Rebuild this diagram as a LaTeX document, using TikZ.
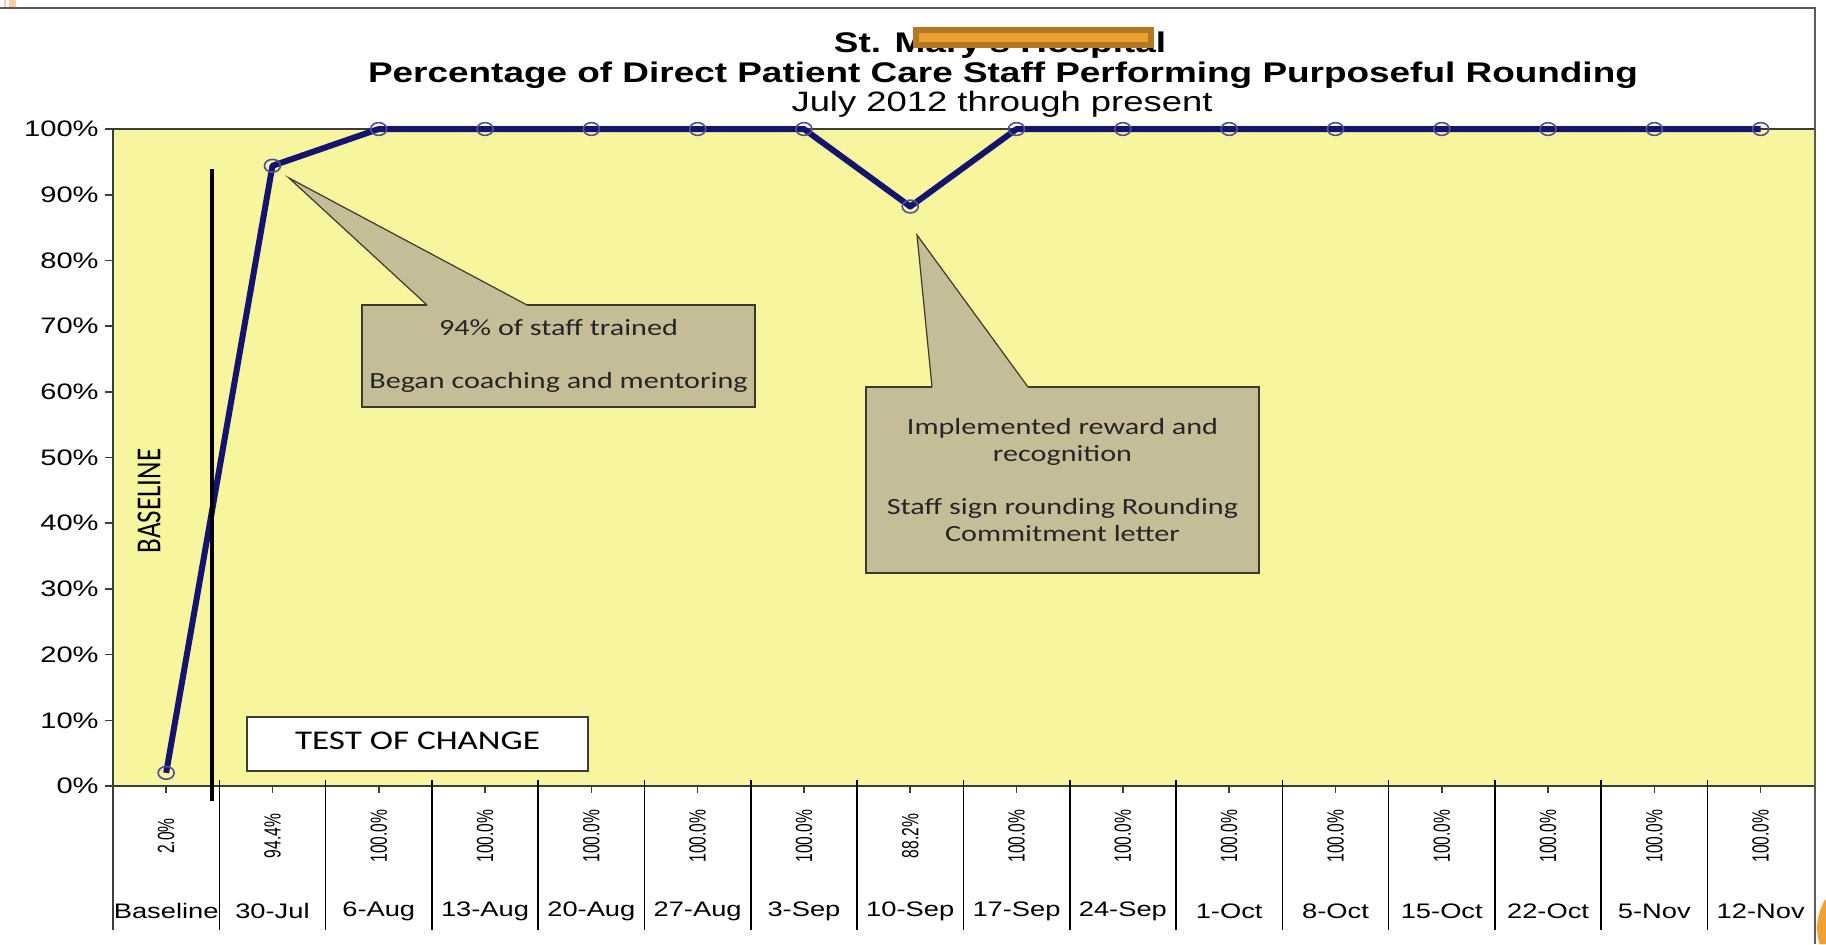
\documentclass[tikz,border=0pt]{standalone}
\usepackage{fontspec}
\usepackage{tikz}
\newfontfamily\chartfont{Liberation Sans}[FakeStretch=1.3]
\newfontfamily\chartfontup{Liberation Sans}
\newfontfamily\notefont{Carlito}[FakeStretch=1.3]
\newfontfamily\notefontup{Carlito}
\newcommand{\tallbox}[1]{\scalebox{1}[1.5]{#1}}
\definecolor{plotyellow}{RGB}{247,245,158}
\definecolor{calltan}{RGB}{196,189,151}
\definecolor{callline}{RGB}{60,58,40}
\definecolor{navyline}{RGB}{20,20,110}
\definecolor{markblue}{RGB}{80,80,150}
\definecolor{axisgray}{RGB}{60,60,60}
\definecolor{framegray}{RGB}{90,90,90}
\definecolor{redactfill}{RGB}{236,160,50}
\definecolor{redactline}{RGB}{180,120,36}
\definecolor{slideorange}{RGB}{240,160,48}
\definecolor{slidepeach}{RGB}{248,205,165}

\begin{document}
\begin{tikzpicture}[x=0.5pt,y=-0.5pt,
	titlefont/.style={font=\chartfont\bfseries\fontsize{14.2}{17}\selectfont,inner sep=0pt},
	subfont/.style={font=\chartfont\fontsize{14}{17}\selectfont,inner sep=0pt},
	ylabel/.style={anchor=east,inner sep=0pt,font=\chartfont\fontsize{11.2}{13}\selectfont},
	datelabel/.style={inner sep=0pt,font=\chartfont\fontsize{10.5}{12}\selectfont},
	vallabel/.style={rotate=90,inner sep=0pt,font=\chartfontup\fontsize{7.8}{9}\selectfont},
	callout/.style={fill=calltan,draw=callline,line width=0.6pt,minimum width=196.5pt,
		inner sep=0pt,align=center,text=black!85,font=\notefont\fontsize{11.6}{13.3}\selectfont},
	series/.style={navyline,line width=3pt,line join=round},
	ptmark/.style={draw=markblue,line width=0.8pt}]
			%\draw [help lines] (0,0) grid (1826,944);
			\useasboundingbox (0,0) rectangle (1826,944);
			\clip (0,0) rectangle (1826,944);
			\fill[white] (0,0) rectangle (1826,944);
			\fill[slidepeach] (4,0) rectangle (6,7);
			\fill[slidepeach] (9,0) rectangle (16,7);
			\fill[slideorange] (1826,899) -- (1823.8,902) -- (1820.2,910) -- (1817.6,920) -- (1817,928) -- (1817.6,936) -- (1819.5,944) -- (1826,944) -- cycle;
			\draw[framegray,line width=1.2pt] (0,8) -- (1815,8) -- (1815,944);
			\node[titlefont] (title1) at (1000,45) {St. Mary's Hospital};
			\node[draw=redactline,fill=redactfill,line width=3pt,inner sep=0pt,minimum width=117.5pt,minimum height=7.5pt] (redact) at (1033.5,37.5) {};
			\node[titlefont] (title2) at (1003,75) {Percentage of Direct Patient Care Staff Performing Purposeful Rounding};
			\node[subfont] (title3) at (1002,104) {July 2012 through present};
			\fill[plotyellow] (113,129) rectangle (1814,786);
			\draw[axisgray,line width=1pt] (113,129) -- (1814,129);
			\draw[axisgray,line width=1pt] (113,129) -- (113,930);
			\draw[axisgray,line width=1pt] (105,786) -- (1814,786);
			\foreach \v in {0,10,...,100} {
				\draw[axisgray,line width=0.8pt] (105,{786-6.57*\v}) -- (113,{786-6.57*\v});
				\node[ylabel] (y\v) at (99,{786-6.57*\v}) {\v\%};
			}
			\foreach \k in {1,...,15}
				\draw[black,line width=0.8pt] ({113+106.3*\k},780) -- ({113+106.3*\k},930);
			\node[callout,minimum height=51pt] (c1) at (558.5,356) {94\% of staff trained\\\strut\\Began coaching and mentoring};
			\coordinate (tip1) at (289,178);
			\coordinate (c1l) at (427,305);
			\coordinate (c1r) at (527,305);
			\fill[calltan] (c1l) -- (tip1) -- (c1r) -- ([yshift=-0.8pt]c1r) -- ([yshift=-0.8pt]c1l) -- cycle;
			\draw[callline,line width=0.6pt] (c1l) -- (tip1) -- (c1r);
			\node[callout,minimum height=93pt] (c2) at (1062.5,480) {Implemented reward and\\recognition\\\strut\\Staff sign rounding Rounding\\Commitment letter};
			\coordinate (tip2) at (917,235);
			\coordinate (c2l) at (932,387);
			\coordinate (c2r) at (1028,387);
			\fill[calltan] (c2l) -- (tip2) -- (c2r) -- ([yshift=-0.8pt]c2r) -- ([yshift=-0.8pt]c2l) -- cycle;
			\draw[callline,line width=0.6pt] (c2l) -- (tip2) -- (c2r);
			\node[draw=axisgray,fill=white,line width=0.8pt,minimum width=170.5pt,minimum height=27pt,inner sep=0pt,font=\notefont\fontsize{13.5}{16}\selectfont] (testbox) at (417.5,744) {\raisebox{3pt}{TEST OF CHANGE}};
			\node[rotate=90,inner sep=0pt,font=\notefontup\fontsize{13.5}{16}\selectfont] (baselbl) at (149,501) {\scalebox{1}[1.3]{BASELINE}};
			\foreach \d/\v [count=\i] in {Baseline/2.0,30-Jul/94.4,6-Aug/100.0,13-Aug/100.0,20-Aug/100.0,27-Aug/100.0,3-Sep/100.0,10-Sep/88.2,17-Sep/100.0,24-Sep/100.0,1-Oct/100.0,8-Oct/100.0,15-Oct/100.0,22-Oct/100.0,5-Nov/100.0,12-Nov/100.0} {
				\coordinate (p\i) at ({113+106.3*(\i-0.5)},{786-6.57*\v});
				\draw[axisgray,line width=0.8pt] ({113+106.3*(\i-0.5)},786) -- ({113+106.3*(\i-0.5)},793);
				\node[vallabel] (v\i) at ({113+106.3*(\i-0.5)},836) {\tallbox{\v\%}};
				\node[datelabel] (d\i) at ({113+106.3*(\i-0.5)},911) {\d};
			}
			\draw[series] (p1) \foreach \i in {2,...,16} {-- (p\i)};
			\foreach \i in {1,...,16}
				\draw[ptmark] (p\i) ellipse [x radius=4pt,y radius=3.2pt];
			\draw[black,line width=2pt] (212,169) -- (212,801);
		\end{tikzpicture}
\end{document}
